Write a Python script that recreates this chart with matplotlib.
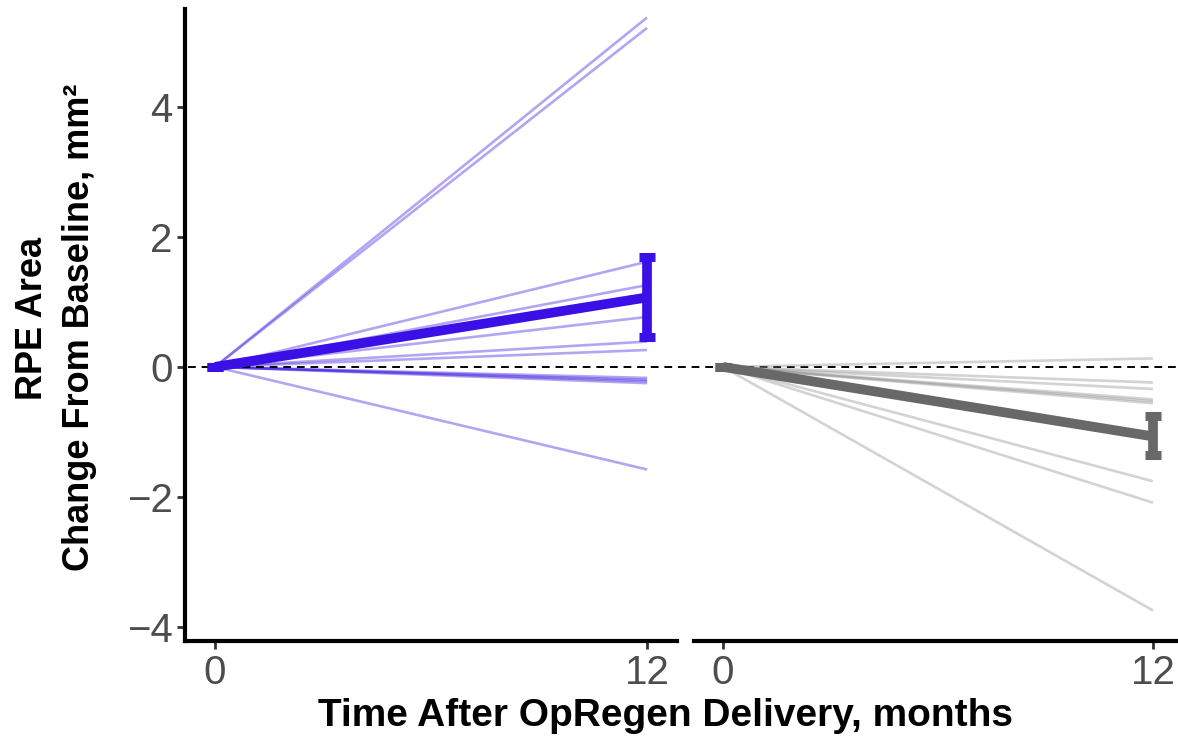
import matplotlib
matplotlib.use("Agg")
import matplotlib.pyplot as plt
from matplotlib.transforms import blended_transform_factory

plt.rcParams["font.family"] = ["Liberation Sans", "DejaVu Sans"]

# time points (months)
months = [0, 12]

# individual change from baseline at month 12 (mm^2)
opregen_ends = [5.38, 5.22, 1.62, 1.26, 0.77, 0.39, 0.26, -0.17, -0.20, -0.22, -0.25, -1.58]
control_ends = [0.13, -0.24, -0.34, -0.50, -0.53, -0.56, -1.76, -2.09, -3.75]

# group mean and error bar limits
opregen_mean = [0.0, 1.07]
opregen_lo = [0.0, 0.46]
opregen_hi = [0.0, 1.69]
control_mean = [0.0, -1.07]
control_lo = [0.0, -1.35]
control_hi = [0.0, -0.75]

yticks = [-4, -2, 0, 2, 4]
xticks = [0, 12]

W, H = 1178, 744
fig = plt.figure(figsize=(W / 100, H / 100), dpi=100)

ax1 = fig.add_axes([185 / W, 1 - 641 / H, 492 / W, 632 / H])
ax2 = fig.add_axes([694 / W, 1 - 641 / H, 484 / W, 632 / H])

ylim = (-4.22, 5.51)
tick_grey = "#4d4d4d"


def draw_group(ax, ends, mean, lo, hi, thin_color, thin_alpha, main_color):
    for e in ends:
        ax.plot(months, [0, e], color=thin_color, alpha=thin_alpha, lw=1.9,
                solid_capstyle="butt", zorder=2)
    ax.plot(months, mean, color=main_color, lw=7, solid_capstyle="butt", zorder=4)
    yerr = [[m - l for m, l in zip(mean, lo)], [h - m for m, h in zip(mean, hi)]]
    ax.errorbar(months, mean, yerr=yerr, fmt="none", ecolor=main_color,
                elinewidth=7, capsize=5.5, capthick=6.5, zorder=5)


draw_group(ax1, opregen_ends, opregen_mean, opregen_lo, opregen_hi, "#3a14e0", 0.38, "#3a10e6")
draw_group(ax2, control_ends, control_mean, control_lo, control_hi, "#8c8c8c", 0.38, "#686868")

ax1.set_xlim(-0.83, 12.83)
ax2.set_xlim(-0.81, 12.7)

for ax in (ax1, ax2):
    ax.set_ylim(*ylim)
    ax.set_xticks(xticks)
    ax.set_xticklabels([str(t) for t in xticks])
    for s in ("top", "right"):
        ax.spines[s].set_visible(False)
    ax.spines["bottom"].set_linewidth(3)
    ax.spines["left"].set_linewidth(3)
    ax.tick_params(axis="both", length=6, width=2, color="#333333",
                   labelsize=29, labelcolor=tick_grey, pad=3)
    ax.set_facecolor("none")

ax1.set_yticks(yticks)
ax1.set_yticklabels(["\u2212" + str(-t) if t < 0 else str(t) for t in yticks])
ax2.spines["left"].set_visible(False)
ax2.set_yticks([])

# dashed zero reference line across both panels
trans = blended_transform_factory(fig.transFigure, ax1.transData)
ax1.plot([188 / W, 1.0], [0, 0], transform=trans, color="black", lw=1.4,
         ls=(0, (4, 3)), clip_on=False, zorder=3)

fig.text(33 / W, 1 - 318 / H, "RPE Area", rotation=90, ha="center", va="center",
         fontsize=26, fontweight="bold")
fig.text(80 / W, 1 - 327 / H, "Change From Baseline, mm\u00b2", rotation=90,
         ha="center", va="center", fontsize=26, fontweight="bold")
fig.text(666 / W, 1 - 716 / H, "Time After OpRegen Delivery, months", ha="center",
         va="center", fontsize=28, fontweight="bold")

fig.savefig("out.png", dpi=100)
